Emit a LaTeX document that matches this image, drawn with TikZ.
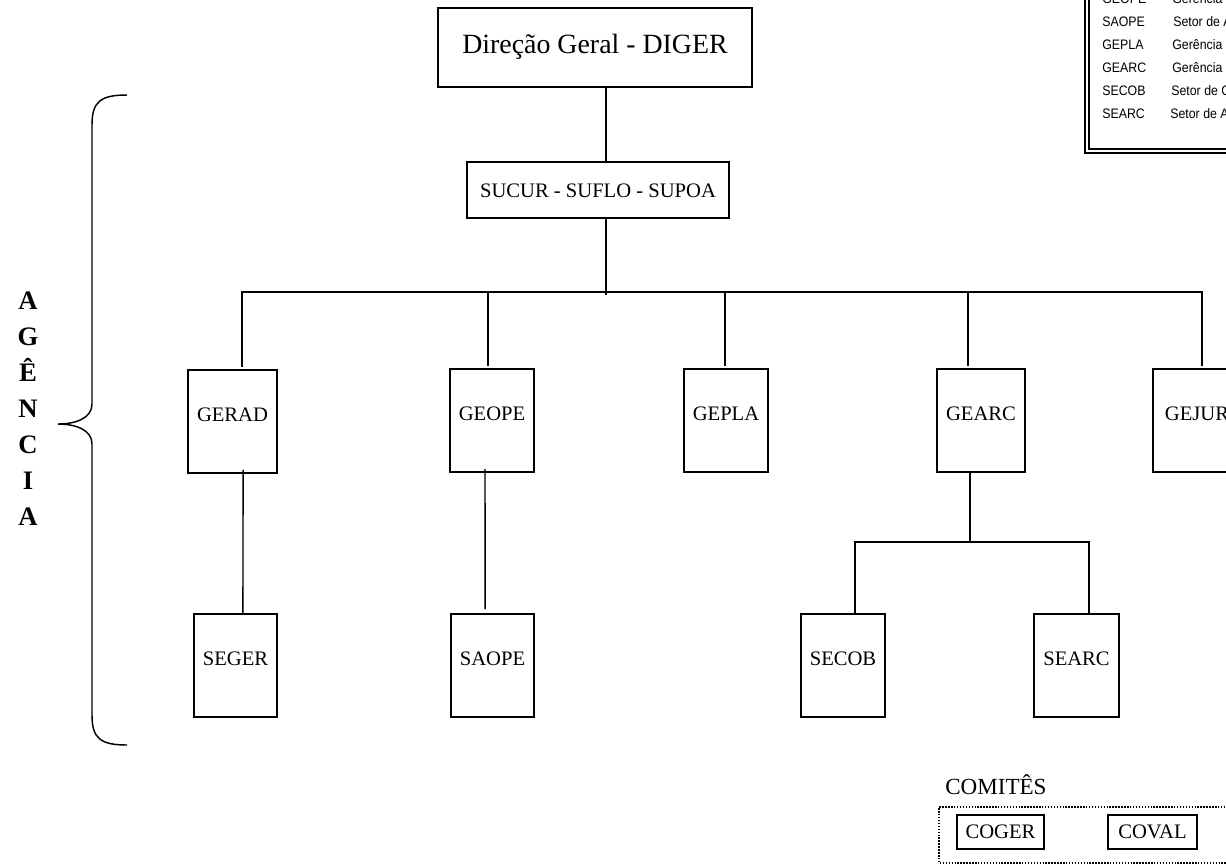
\documentclass[tikz,border=0pt]{standalone}
\usepackage{fontspec}
\setmainfont{Liberation Serif}
\newfontfamily\legendfont[FakeStretch=0.9]{Liberation Sans}
\begin{document}
\begin{tikzpicture}[x=0.75pt,y=-0.75pt,
  orgbox/.style={draw, line width=1.4pt, rectangle, inner sep=0pt,
    font=\fontsize{15.45}{18}\selectfont},
  unitbox/.style={orgbox, minimum height=77.25pt, text height=10.5pt, text depth=10.5pt},
  combox/.style={orgbox, minimum height=25.5pt, text height=10.2pt, text depth=0pt},
  bus/.style={line width=1.6pt, line cap=rect},
  sub/.style={line width=1.1pt},
  legtxt/.style={anchor=base west, inner sep=0pt, font=\legendfont\fontsize{10.3}{12}\selectfont},
  agtxt/.style={anchor=base, inner sep=0pt, font=\fontsize{20}{23}\selectfont\bfseries}]
\useasboundingbox (0,0) rectangle (1226,865);
\clip (0,0) rectangle (1226,865);

% top of the hierarchy
\node[orgbox, minimum width=235.5pt, minimum height=59.25pt,
  font=\fontsize{20.9}{24}\selectfont, text height=14pt, text depth=4.6pt]
  (diger) at (595,47.5) {Direção Geral - DIGER};
\node[orgbox, minimum width=196.5pt, minimum height=42pt, text height=11.7pt, text depth=0pt]
  (sucur) at (598,190) {SUCUR - SUFLO - SUPOA};

% managements
\node[unitbox, minimum width=66.75pt] (gerad) at (232.5,421.5) {GERAD};
\node[unitbox, minimum width=63pt]    (geope) at (492,420.5) {GEOPE};
\node[unitbox, minimum width=63pt]    (gepla) at (726,420.5) {GEPLA};
\node[unitbox, minimum width=66pt]    (gearc) at (981,420.5) {GEARC};
\node[unitbox, minimum width=66pt]    (gejur) at (1197,420.5) {GEJUR};

% sectors
\node[unitbox, minimum width=62.25pt] (seger) at (235.5,665.5) {SEGER};
\node[unitbox, minimum width=62.25pt] (saope) at (492.5,665.5) {SAOPE};
\node[unitbox, minimum width=63pt]    (secob) at (843,665.5) {SECOB};
\node[unitbox, minimum width=63.75pt] (searc) at (1076.5,665.5) {SEARC};

% connectors
\coordinate (trunk) at (606,292);
\coordinate (dA) at (242,292);
\coordinate (dB) at (488,292);
\coordinate (dC) at (725,292);
\coordinate (dD) at (968,292);
\coordinate (dE) at (1202,292);
\draw[sub] (diger.south -| trunk) -- (sucur.north -| trunk);
\draw[sub] (sucur.south -| trunk) -- ([yshift=-2pt]trunk);
\draw[bus] (dA) -- (dE);
\draw[bus, shorten >=2.5pt] (dA) -- (dA |- gerad.north);
\draw[bus, shorten >=2.5pt] (dB) -- (dB |- geope.north);
\draw[bus, shorten >=2.5pt] (dC) -- (dC |- gepla.north);
\draw[bus, shorten >=2.5pt] (dD) -- (dD |- gearc.north);
\draw[bus, shorten >=2.5pt] (dE) -- (dE |- gejur.north);

\draw[sub] ([xshift=7.9pt, yshift=3pt]gerad.south) -- ([xshift=5.6pt]seger.north);
\draw[sub, shorten >=3pt] ([xshift=-5.25pt, yshift=3pt]geope.south) -- ([xshift=-5.6pt]saope.north);

\coordinate (j2) at (970,542);
\coordinate (s1) at ([xshift=9pt]secob.north);
\coordinate (s2) at ([xshift=9.4pt]searc.north);
\draw[line width=1.4pt] (j2 |- gearc.south) -- (j2);
\draw[line width=1.4pt, line join=miter] (s1) |- (s2 |- j2) -- (s2);

% brace and side label
\draw[line width=1.1pt] (127,95) .. controls (100,95) and (92,102) .. (92,125)
  -- (92,404) .. controls (92,418) and (76,424) .. (58,424)
  .. controls (76,424) and (92,430) .. (92,444)
  -- (92,715) .. controls (92,738) and (100,745) .. (127,745);
\foreach \ch [count=\k] in {A,G,Ê,N,C,I,A}
  \node[agtxt] (ag\k) at (28,273+36*\k) {\ch};

% legend
\draw[line width=1.1pt] (1085,-20) -- (1085,153) -- (1240,153);
\draw[line width=0.9pt] (1089,-20) -- (1089,149) -- (1240,149);
\foreach \ab/\desc/\dx/\yb [count=\k] in
  {GEOPE/Gerência/1172/3.5, SAOPE/Setor de A/1173/26.5, GEPLA/Gerência/1172/49.5,
   GEARC/Gerência/1172/72.5, SECOB/Setor de C/1171/95.5, SEARC/Setor de A/1170/118.5}
{
  \node[legtxt] (lab\k) at (1102,\yb) {\ab};
  \node[legtxt] (ldesc\k) at (\dx,\yb) {\desc};
}

% committees
\node[anchor=base west, inner sep=0pt, font=\fontsize{17.3}{20}\selectfont]
  (comites) at (945,794) {COMITÊS};
\draw[line width=1.1pt, dash pattern=on 1.1pt off 1.1pt] (1240,807) -- (939,807) -- (939,863) -- (1240,863);
\node[combox, minimum width=65.25pt] (coger) at (1000.5,832) {COGER};
\node[combox, minimum width=66.75pt] (coval) at (1152.5,832) {COVAL};
\end{tikzpicture}
\end{document}
